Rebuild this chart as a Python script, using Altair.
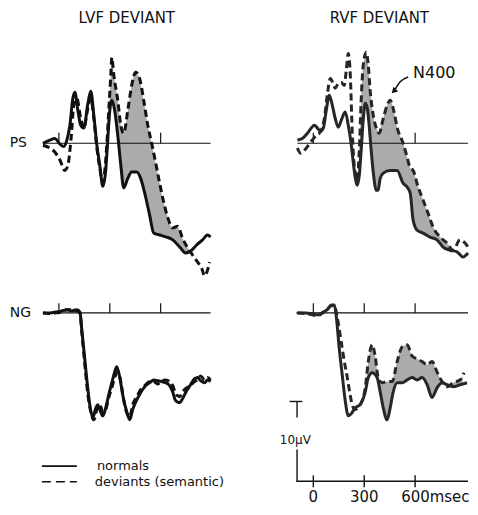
import altair as alt
import numpy as np
import pandas as pd

# ------------------------------------------------------------------
# Data: time in ms, amplitude in µV
# (positive values are drawn downward, as in the original figure)
# ------------------------------------------------------------------
LVF_PS_T_NORM = [-94, -53, -24, 6, 29, 47, 65, 82, 94, 112, 129, 147, 171, 188, 206, 224, 241, 259, 276, 288,
                 300, 312, 329, 347, 365, 382, 406, 429, 459, 482, 506, 535, 559, 594, 635, 671, 712, 747, 782, 812,
                 847, 876, 894]
LVF_PS_V_NORM = [0, -0.4, -0.6, 0.1, 0.4, -0.4, -2.25, -5.6, -6.4, -4.1, -2.25, -1.9, -5, -6.5, -3.5, 0.25, 2.75, 5.4, 3.4, -0.4,
                 -4.1, -5.4, -4.1, -1, 2.75, 5.6, 4.4, 3.6, 3.6, 4.4, 6.25, 9, 11.25, 11.5, 11.75, 12.1, 13, 13.75, 13.4, 12.75,
                 12.1, 11.5, 11.75]
LVF_PS_T_DEV = [-94, -53, -24, 6, 35, 53, 71, 88, 106, 129, 147, 171, 188, 206, 224, 241, 259, 276, 294, 306,
                312, 324, 347, 365, 382, 406, 429, 453, 476, 500, 524, 547, 571, 594, 618, 641, 671, 700, 729, 759,
                788, 818, 841, 859, 876, 888]
LVF_PS_V_DEV = [0.25, 0.6, 1.1, 2.1, 3.4, 2.75, -0.4, -4.75, -5.6, -3.1, -1.9, -4.4, -5.6, -3.1, 0.6, 3.1, 4.9, 2.1, -4.1, -8.5,
                -10.75, -8.5, -5.4, -2.25, -1.25, -4.1, -7.25, -8.9, -8.1, -5.4, -2.25, 0, 2.5, 5, 7.4, 9.25, 10.6, 10.4, 11.9, 13.1,
                14, 14.9, 15.6, 16.6, 15.9, 14.9]

RVF_PS_T_NORM = [-94, -65, -35, -12, 6, 24, 41, 59, 76, 94, 112, 129, 147, 165, 188, 206, 224, 241, 259, 271,
                 282, 294, 306, 318, 329, 341, 353, 371, 382, 394, 412, 453, 494, 529, 553, 571, 588, 612,
                 647, 688, 729, 765, 806, 847, 882, 912]
RVF_PS_V_NORM = [-0.4, -0.6, -1.25, -1.9, -2.25, -1.9, -1.5, -1.9, -4.1, -6, -4.75, -3.1, -2, -2.9, -3.9, -2.25, 0.25, 3.4, 5.25, 4,
                 0.9, -2.9, -5, -4.4, -2.25, 0.9, 3.6, 5.9, 5.9, 4.4, 3.75, 3.4, 3.4, 5, 5.5, 6.25, 9.6, 10.9,
                 11.25, 11.75, 12.1, 13, 13.4, 13.6, 14.25, 13.75]
RVF_PS_T_DEV = [-94, -76, -53, -29, -6, 18, 41, 65, 82, 100, 118, 129, 147, 165, 182, 194, 206, 218, 229, 241,
                259, 271, 282, 294, 312, 324, 335, 353, 371, 388, 412, 435, 453, 476, 494, 529, 553, 571, 588,
                618, 647, 676, 706, 747, 788, 824, 865, 894, 912]
RVF_PS_V_DEV = [0.6, 1.25, 0.9, 0.25, -0.4, -1, -1.4, -3.1, -6, -8.1, -7.4, -6.9, -7.5, -7.6, -7.25, -9.1, -11.25, -8.5, -1.6, 2.75,
                4.6, 0.9, -5.4, -9.75, -11.4, -9.75, -6.6, -3.5, -1.9, -1.25, -3.1, -4.75, -5.4, -3.9, -2, 0, 1.75, 3.1, 3.4,
                5.5, 7.1, 8.75, 10.5, 11.75, 12.5, 13.4, 12.1, 12.5, 13]

LVF_NG_T_NORM = [-94, -53, -18, 18, 47, 76, 106, 124, 135, 153, 171, 182, 200, 218, 229, 241, 259, 276, 294, 312,
                 329, 341, 359, 376, 400, 418, 435, 459, 482, 512, 535, 559, 582, 606, 629, 653, 671, 688, 712, 729,
                 753, 776, 800, 818, 835, 859, 876, 894]
LVF_NG_V_NORM = [0, 0, -0.1, -0.25, -0.4, -0.25, -0.4, -0.1, 2.1, 5.9, 9.6, 11.5, 13.1, 11.9, 11.5, 12.1, 12.9, 11.9, 10.25, 8.75,
                 7.4, 6.75, 8.1, 10.25, 12.4, 13.4, 12.1, 10.9, 10, 9.1, 8.75, 8.4, 8.5, 8.6, 8.75, 9.1, 9.9, 11, 11.25, 10.75,
                 9.75, 9, 8.25, 8.1, 8.5, 8.75, 8.4, 8.6]
LVF_NG_T_DEV = [-94, -53, -18, 18, 47, 76, 106, 124, 135, 153, 171, 188, 206, 224, 241, 259, 276, 294, 312, 329,
                347, 365, 382, 400, 418, 435, 459, 482, 512, 535, 559, 582, 606, 629, 653, 671, 688, 712, 729, 753,
                776, 800, 818, 835, 859, 876, 894]
LVF_NG_V_DEV = [0, 0.1, 0, -0.1, -0.4, -0.4, -0.25, 0, 2.4, 6.5, 10.25, 12.4, 13.4, 12.1, 11.5, 12.4, 12.1, 10.6, 9.4, 8.1,
                7.4, 8.6, 10.9, 12.5, 13, 11.5, 10.5, 9.6, 9, 8.6, 8.6, 8.9, 8.5, 8.4, 8.6, 9.1, 10.1, 10.5, 9.9, 9.4,
                9.1, 8.6, 8.4, 7.9, 8.4, 8.1, 8.4]

RVF_NG_T_NORM = [-94, -47, -6, 24, 53, 82, 106, 124, 135, 153, 171, 188, 206, 224, 247, 276, 306, 324, 347, 376,
                 394, 412, 435, 453, 471, 494, 524, 553, 582, 612, 641, 671, 700, 729, 759, 788, 824, 865, 906]
RVF_NG_V_NORM = [0, 0, 0.1, 0.25, 0, -0.4, -1, -1, 0.4, 4.5, 7.9, 11, 12.9, 12.6, 11.9, 11.5, 9.9, 8.1, 7.5, 8.1,
                 9.9, 11.9, 13.4, 11.9, 9.9, 8.75, 8.75, 8.4, 8.1, 8.4, 8.1, 9, 10.6, 9.4, 8.75, 9, 9.25, 9, 8.75]
RVF_NG_T_DEV = [-94, -47, -6, 24, 53, 82, 106, 124, 141, 165, 182, 200, 218, 229, 247, 276, 306, 324, 347, 365,
                382, 406, 435, 465, 494, 524, 553, 582, 612, 641, 671, 700, 729, 759, 788, 824, 865, 888]
RVF_NG_V_DEV = [0, 0.1, 0.25, 0.4, 0, -0.4, -0.9, -0.9, 0.6, 3.75, 6, 8.1, 10.4, 11.5, 12.1, 11.5, 9.4, 6.1, 4, 5.5,
                8.1, 8.75, 8.6, 8.6, 6.1, 4.25, 4, 5.4, 5.75, 6.1, 6.5, 6.1, 7.4, 8.6, 9.25, 8.75, 8.4, 7.5]

# shaded N400 difference windows (ms)
LVF_PS_SHADE = [280, 780]
RVF_PS_SHADE = [270, 800]
RVF_NG_SHADE = [300, 880]

PANEL_TITLES = ["LVF DEVIANT", "RVF DEVIANT"]
ROW_LABELS = ["PS", "NG"]
LEGEND_LABELS = ["normals", "deviants (semantic)"]
TIME_TICKS = [0, 300, 600]
TIME_TICK_LABELS = ["0", "300", "600msec"]
SCALE_UV = 10
SCALE_LABEL = "10µV"
ANNOTATION = "N400"

# ------------------------------------------------------------------
# Layout / style
# ------------------------------------------------------------------
PX_PER_MS = 0.17
PX_PER_UV = 8.0
LEFT_X = [-300, 900]
RIGHT_X = [-200, 920]
TOP_Y = [-16.875, 17.75]
BOT_Y = [-3.5, 24.25]
FONT = "DejaVu Sans"
INK = "#111111"
GREYINK = "#262626"
SHADE = "#ababab"
DASH = [7, 4]
LW = 3.0


def X(field, dom):
    return alt.X(field, type="quantitative", axis=None,
                 scale=alt.Scale(domain=dom, nice=False, zero=False))


def Y(field, dom):
    return alt.Y(field, type="quantitative", axis=None,
                 scale=alt.Scale(domain=dom, nice=False, zero=False, reverse=True))


def wave(t, v, xd, yd, color, width, dash=None):
    kw = dict(color=color, strokeWidth=width, interpolate="monotone", strokeJoin="round")
    if dash:
        kw["strokeDash"] = dash
    return alt.Chart(pd.DataFrame({"ms": t, "uv": v})).mark_line(**kw).encode(
        x=X("ms", xd), y=Y("uv", yd))


def band(tn, vn, td, vd, win, xd, yd):
    lo, hi = win
    grid = sorted(set([x for x in list(tn) + list(td) if lo <= x <= hi] + [lo, hi]))
    df = pd.DataFrame({"ms": grid,
                       "norm": np.interp(grid, tn, vn),
                       "dev": np.interp(grid, td, vd)})
    return alt.Chart(df).mark_area(color=SHADE, interpolate="monotone").encode(
        x=X("ms", xd), y=Y("norm", yd), y2="dev")


def hrule(x0, x1, y, xd, yd, width=1.2, dash=None):
    kw = dict(color=INK, strokeWidth=width)
    if dash:
        kw["strokeDash"] = dash
    return alt.Chart(pd.DataFrame({"a": [x0], "b": [x1], "y": [y]})).mark_rule(**kw).encode(
        x=X("a", xd), x2="b", y=Y("y", yd))


def vticks(xs, y0, y1, xd, yd, width=1.2):
    df = pd.DataFrame({"ms": xs, "y0": [y0] * len(xs), "y1": [y1] * len(xs)})
    return alt.Chart(df).mark_rule(color=INK, strokeWidth=width).encode(
        x=X("ms", xd), y=Y("y0", yd), y2="y1")


def label(text, x, y, xd, yd, size, align="center", dx=0):
    df = pd.DataFrame({"ms": [x], "uv": [y], "t": [text]})
    return alt.Chart(df).mark_text(align=align, baseline="middle", font=FONT, fontSize=size,
                                   color=INK, dx=dx).encode(
        x=X("ms", xd), y=Y("uv", yd), text="t:N")


def size_of(xd, yd):
    return dict(width=(xd[1] - xd[0]) * PX_PER_MS, height=(yd[1] - yd[0]) * PX_PER_UV)


# ---------------- LVF / PS ----------------
xd, yd = LEFT_X, TOP_Y
p_lvf_ps = alt.layer(
    band(LVF_PS_T_NORM, LVF_PS_V_NORM, LVF_PS_T_DEV, LVF_PS_V_DEV, LVF_PS_SHADE, xd, yd),
    hrule(-94, 894, 0, xd, yd),
    vticks([0, 600], 0, -1.3, xd, yd),
    wave(LVF_PS_T_DEV, LVF_PS_V_DEV, xd, yd, INK, LW, DASH),
    wave(LVF_PS_T_NORM, LVF_PS_V_NORM, xd, yd, INK, LW),
    label(PANEL_TITLES[0], 400, -15.7, xd, yd, 15),
    label(ROW_LABELS[0], -290, 0, xd, yd, 14, align="left"),
).properties(**size_of(xd, yd))

# ---------------- RVF / PS ----------------
xd, yd = RIGHT_X, TOP_Y
arrow_df = pd.DataFrame({"ms": [478, 512, 559], "uv": [-6.6, -7.7, -8.3]})
p_rvf_ps = alt.layer(
    band(RVF_PS_T_NORM, RVF_PS_V_NORM, RVF_PS_T_DEV, RVF_PS_V_DEV, RVF_PS_SHADE, xd, yd),
    hrule(-94, 912, 0, xd, yd),
    vticks([0, 600], 0, -1.3, xd, yd),
    wave(RVF_PS_T_DEV, RVF_PS_V_DEV, xd, yd, GREYINK, LW, DASH),
    wave(RVF_PS_T_NORM, RVF_PS_V_NORM, xd, yd, GREYINK, LW),
    label(PANEL_TITLES[1], 389, -15.7, xd, yd, 15),
    label(ANNOTATION, 588, -8.75, xd, yd, 16, align="left"),
    alt.Chart(arrow_df).mark_line(color=INK, strokeWidth=1.5, interpolate="monotone").encode(
        x=X("ms", xd), y=Y("uv", yd)),
    alt.Chart(arrow_df.iloc[[0]]).mark_point(shape="triangle", angle=225, size=45, filled=True,
                                             color=INK, opacity=1).encode(
        x=X("ms", xd), y=Y("uv", yd)),
).properties(**size_of(xd, yd))

# ---------------- LVF / NG ----------------
xd, yd = LEFT_X, BOT_Y
p_lvf_ng = alt.layer(
    hrule(-94, 894, 0, xd, yd),
    vticks(TIME_TICKS, 0, -1.2, xd, yd),
    wave(LVF_NG_T_DEV, LVF_NG_V_DEV, xd, yd, INK, LW, DASH),
    wave(LVF_NG_T_NORM, LVF_NG_V_NORM, xd, yd, INK, LW),
    label(ROW_LABELS[1], -290, 0, xd, yd, 14, align="left"),
    hrule(-100, 106, 19.2, xd, yd, width=1.6),
    hrule(-100, 106, 21.15, xd, yd, width=1.6, dash=[9, 5]),
    label(LEGEND_LABELS[0], 224, 19.2, xd, yd, 13, align="left"),
    label(LEGEND_LABELS[1], 212, 21.15, xd, yd, 13, align="left"),
).properties(**size_of(xd, yd))

# ---------------- RVF / NG ----------------
xd, yd = RIGHT_X, BOT_Y
axis_y = 21.1
p_rvf_ng = alt.layer(
    band(RVF_NG_T_NORM, RVF_NG_V_NORM, RVF_NG_T_DEV, RVF_NG_V_DEV, RVF_NG_SHADE, xd, yd),
    hrule(-100, 912, 0, xd, yd),
    vticks(TIME_TICKS, 0, -1.2, xd, yd),
    wave(RVF_NG_T_DEV, RVF_NG_V_DEV, xd, yd, GREYINK, LW, DASH),
    wave(RVF_NG_T_NORM, RVF_NG_V_NORM, xd, yd, GREYINK, LW),
    # time axis
    hrule(-100, 912, axis_y, xd, yd, width=1.4),
    vticks(TIME_TICKS, axis_y - 0.75, axis_y + 0.75, xd, yd, width=1.4),
    label(TIME_TICK_LABELS[0], TIME_TICKS[0], 23.1, xd, yd, 15),
    label(TIME_TICK_LABELS[1], TIME_TICKS[1], 23.1, xd, yd, 15),
    label(TIME_TICK_LABELS[2], TIME_TICKS[2], 23.1, xd, yd, 15, align="left", dx=-14),
    # 10 µV calibration bar
    vticks([-96], axis_y - SCALE_UV, axis_y - SCALE_UV + 2.0, xd, yd, width=1.4),
    vticks([-96], axis_y - 4.0, axis_y, xd, yd, width=1.4),
    hrule(-140, -65, axis_y - SCALE_UV, xd, yd, width=1.4),
    label(SCALE_LABEL, -106, axis_y - 5.2, xd, yd, 12),
).properties(**size_of(xd, yd))

chart = alt.vconcat(
    alt.hconcat(p_lvf_ps, p_rvf_ps, spacing=67, bounds="flush"),
    alt.hconcat(p_lvf_ng, p_rvf_ng, spacing=67, bounds="flush"),
    spacing=0,
).properties(padding=0).configure_view(stroke=None)

chart.save("out.html", embed_options={"renderer": "svg", "actions": False})
